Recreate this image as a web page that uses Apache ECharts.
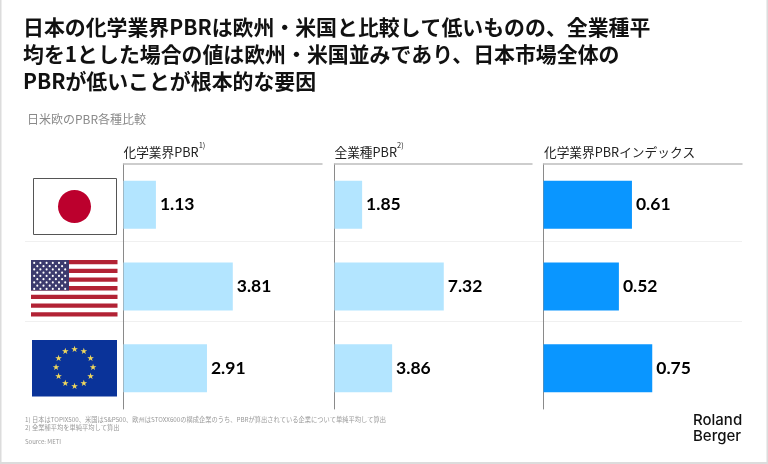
<!DOCTYPE html>
<html><head><meta charset="utf-8">
<style>html,body{margin:0;padding:0;background:#fff}#c{width:768px;height:464px}</style>
<script src="https://cdn.jsdelivr.net/npm/echarts@6/dist/echarts.min.js"></script>
</head><body><div id="c"></div>
<script>
const regions = ['日本', '米国', '欧州'];
const chemicalPBR = [1.13, 3.81, 2.91];
const allIndustryPBR = [1.85, 7.32, 3.86];
const chemicalIndex = [0.61, 0.52, 0.75];
const titleText = '日本の化学業界PBRは欧州・米国と比較して低いものの、全業種平\n均を1とした場合の値は欧州・米国並みであり、日本市場全体の\nPBRが低いことが根本的な要因';
const subtitleText = '日米欧のPBR各種比較';
const footText = '1) 日本はTOPIX500、米国はS&P500、欧州はSTOXX600の構成企業のうち、PBRが算出されている企業について単純平均して算出\n2) 全業種平均を単純平均して算出';
const sourceText = 'Source: METI';

const CJK = '"Noto Sans CJK JP","Noto Sans",sans-serif';
const panels = [
  {data: chemicalPBR, left: 123.5, width: 198.5, max: 6.92, color: '#B3E5FF'},
  {data: allIndustryPBR, left: 334.5, width: 197.5, max: 13.23, color: '#B3E5FF'},
  {data: chemicalIndex, left: 543.5, width: 198.5, max: 1.369, color: '#0A96FF'}
];
const head = (text, sup, left) => ({
  text: sup ? `{a|${text}}{b|${sup}}` : `{a|${text}}`, left, top: 141, padding: 0,
  textStyle: {fontWeight:'normal', rich: {
    a: {fontFamily: CJK, fontSize: 12.7, fontWeight:'normal', color: '#222', lineHeight: 22},
    b: {fontFamily: CJK, fontSize: 7.5, fontWeight:'normal', color: '#222', verticalAlign: 'top', lineHeight: 19}
  }}
});
const g = [];
g.push({type:'rect',z:-5,shape:{x:0.5,y:-2,width:767,height:465},style:{fill:'#fff',stroke:'#dcdcdc',lineWidth:2}});
[241.5, 321.5].forEach(y => g.push({type:'line',z:-1,shape:{x1:25,y1:y,x2:742,y2:y},style:{stroke:'#f0f0f0',lineWidth:1.2}}));
// Japan flag
g.push({type:'rect',shape:{x:33.5,y:178.5,width:83,height:56},style:{fill:'#fff',stroke:'#555',lineWidth:1}});
g.push({type:'circle',shape:{cx:74.5,cy:206.5,r:16.5},style:{fill:'#BC002D'}});
// US flag
const ux=31, uy=260, uw=86.5, uh=56.5, sh=uh/13;
g.push({type:'rect',shape:{x:ux,y:uy,width:uw,height:uh},style:{fill:'#fff'}});
for(let i=0;i<13;i+=2) g.push({type:'rect',shape:{x:ux,y:uy+i*sh,width:uw,height:sh},style:{fill:'#B22234'}});
g.push({type:'rect',shape:{x:ux,y:uy,width:38,height:sh*7},style:{fill:'#3C3B6E'}});
for(let r=0;r<9;r++){const n=r%2?5:6;for(let c=0;c<n;c++){
  g.push({type:'circle',shape:{cx:ux+3.2+(r%2?3.1:0)+c*6.2,cy:uy+2.9+r*3.25,r:1.05},style:{fill:'#fff'}});
}}
// EU flag
g.push({type:'rect',shape:{x:32,y:340,width:85,height:56.5},style:{fill:'#0A3399'}});
for(let i=0;i<12;i++){const a=i*Math.PI/6;
  g.push({type:'text',style:{x:74.5+Math.sin(a)*18.5,y:368+Math.cos(a)*-18.5,text:'★',fontSize:8.5,fill:'#F2D95C',align:'center',verticalAlign:'middle',fontFamily:'"DejaVu Sans"'}});
}
// footnotes and logo
g.push({type:'text',style:{x:25,y:415,text:footText,fontSize:6.25,lineHeight:8.5,fill:'#999',fontFamily:CJK}});
g.push({type:'text',style:{x:25,y:439,text:sourceText,fontSize:6,fill:'#999',fontFamily:CJK}});
g.push({type:'text',style:{x:693,y:413,text:'Roland\nBerger',fontSize:15,lineHeight:15.5,fontWeight:500,fill:'#111',fontFamily:'Inter,sans-serif'}});

const option = {
  animation:false, backgroundColor:'#fff',
  title:[
    {text:titleText,left:23,top:14,padding:0,textStyle:{fontFamily:CJK,fontSize:20.9,fontWeight:'bold',color:'#111',lineHeight:27}},
    {text:subtitleText,left:27,top:113,padding:0,textStyle:{fontFamily:CJK,fontSize:12,fontWeight:'normal',color:'#8a8a8a'}},
    head('化学業界PBR','1)',123.5), head('全業種PBR','2)',334.5), head('化学業界PBRインデックス','',544)
  ],
  grid:panels.map(p=>({left:p.left,top:164,width:p.width,height:245})),
  xAxis:panels.map((p,i)=>({type:'value',gridIndex:i,min:0,max:p.max,position:'top',
    axisLine:{show:true,lineStyle:{color:'#bdbdbd',width:1.5}},axisTick:{show:false},axisLabel:{show:false},splitLine:{show:false}})),
  yAxis:panels.map((p,i)=>({type:'category',gridIndex:i,data:regions,inverse:true,
    axisLine:{show:true,lineStyle:{color:'#8a8a8a',width:1}},axisTick:{show:false},axisLabel:{show:false}})),
  series:panels.map((p,i)=>({type:'bar',xAxisIndex:i,yAxisIndex:i,data:p.data,barWidth:48,
    itemStyle:{color:p.color},
    label:{show:true,position:'right',distance:4,formatter:v=>v.value.toFixed(2),
      fontFamily:'Lato,"Open Sans",sans-serif',fontWeight:'bold',fontSize:17.5,color:'#000'}})),
  graphic:{elements:g}
};
echarts.init(document.getElementById('c'),null,{renderer:'canvas'}).setOption(option);
</script></body></html>
